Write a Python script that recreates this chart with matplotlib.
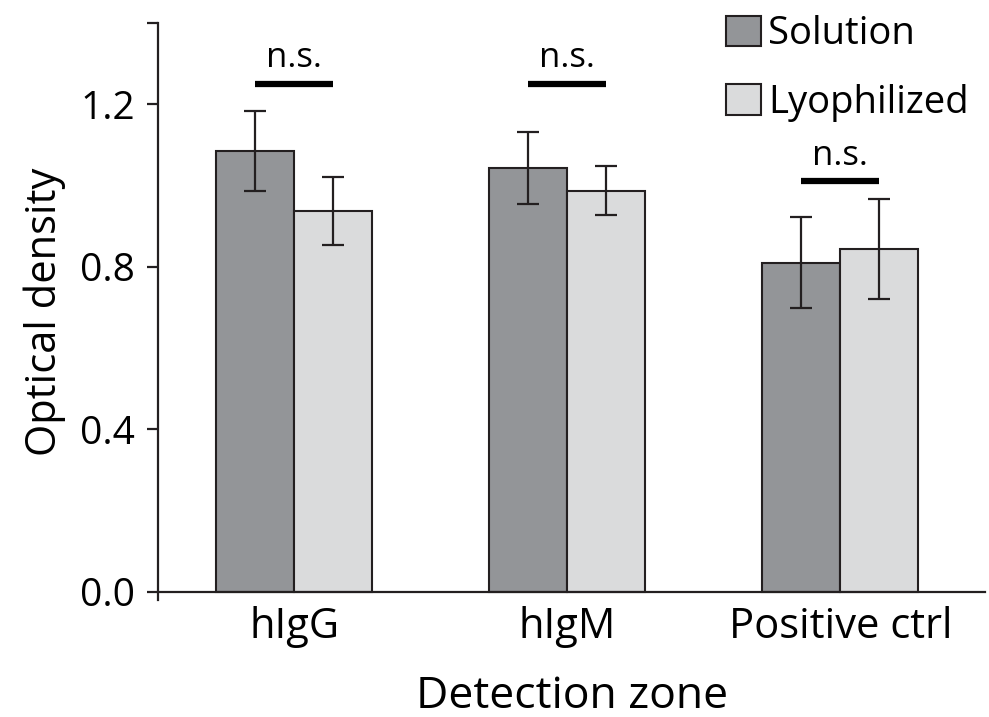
import matplotlib
matplotlib.use('Agg')
import matplotlib.pyplot as plt
from matplotlib.patches import Patch
import numpy as np

plt.rcParams['font.family'] = ['Open Sans', 'DejaVu Sans']

# Optical density per detection zone
zones = ['hIgG', 'hIgM', 'Positive ctrl']
solution = [1.085, 1.043, 0.810]
solution_err = [0.098, 0.088, 0.112]
lyophilized = [0.937, 0.987, 0.844]
lyophilized_err = [0.083, 0.060, 0.122]
# height of the significance bar above each group
ns_level = [1.25, 1.25, 1.01]

edge = '#231f20'
c_sol = '#939598'
c_lyo = '#dadbdc'

fig = plt.figure(figsize=(9.89, 7.17), dpi=100)
ax = fig.add_axes([0.16, 0.163, 0.836, 0.805])

x = np.arange(len(zones))
width = 0.286
ekw = dict(elinewidth=1.6, capthick=1.6, ecolor=edge)

ax.bar(x - width / 2, solution, width, yerr=solution_err, capsize=8,
       color=c_sol, edgecolor=edge, linewidth=1.5, error_kw=ekw, zorder=2)
ax.bar(x + width / 2, lyophilized, width, yerr=lyophilized_err, capsize=8,
       color=c_lyo, edgecolor=edge, linewidth=1.5, error_kw=ekw, zorder=2)

# n.s. markers
for xi, lvl in zip(x, ns_level):
    ax.plot([xi - width / 2, xi + width / 2], [lvl, lvl], color='black',
            linewidth=4.5, solid_capstyle='butt')
    ax.text(xi, lvl + 0.022, 'n.s.', ha='center', va='bottom', fontsize=25)

ax.set_xlim(-0.498, 2.53)
ax.set_ylim(-0.02, 1.4)
ax.set_yticks([0.0, 0.4, 0.8, 1.2, 1.4])
ax.set_yticklabels(['0.0', '0.4', '0.8', '1.2', ''])
ax.set_xticks(x)
ax.set_xticklabels(zones)

ax.spines['top'].set_visible(False)
ax.spines['right'].set_visible(False)
ax.spines['bottom'].set_position(('data', 0))
for s in ['left', 'bottom']:
    ax.spines[s].set_linewidth(1.6)
    ax.spines[s].set_color(edge)

ax.tick_params(axis='y', direction='out', length=8, width=1.6, colors=edge,
               labelsize=28, labelcolor='black', pad=9)
ax.tick_params(axis='x', length=0, labelsize=30, pad=10)

ax.set_ylabel('Optical density', fontsize=30, labelpad=10)
ax.set_xlabel('Detection zone', fontsize=32, labelpad=19)

handles = [Patch(facecolor=c_sol, edgecolor=edge, linewidth=1.5, label='Solution'),
           Patch(facecolor=c_lyo, edgecolor=edge, linewidth=1.5, label='Lyophilized')]
ax.legend(handles=handles, loc='upper left', bbox_to_anchor=(0.719, 1.0),
          bbox_transform=fig.transFigure, frameon=False, fontsize=27.5,
          handlelength=0.9, handleheight=0.85, handletextpad=0.2,
          labelspacing=0.8, borderaxespad=0)

fig.savefig('out.png', dpi=100)
